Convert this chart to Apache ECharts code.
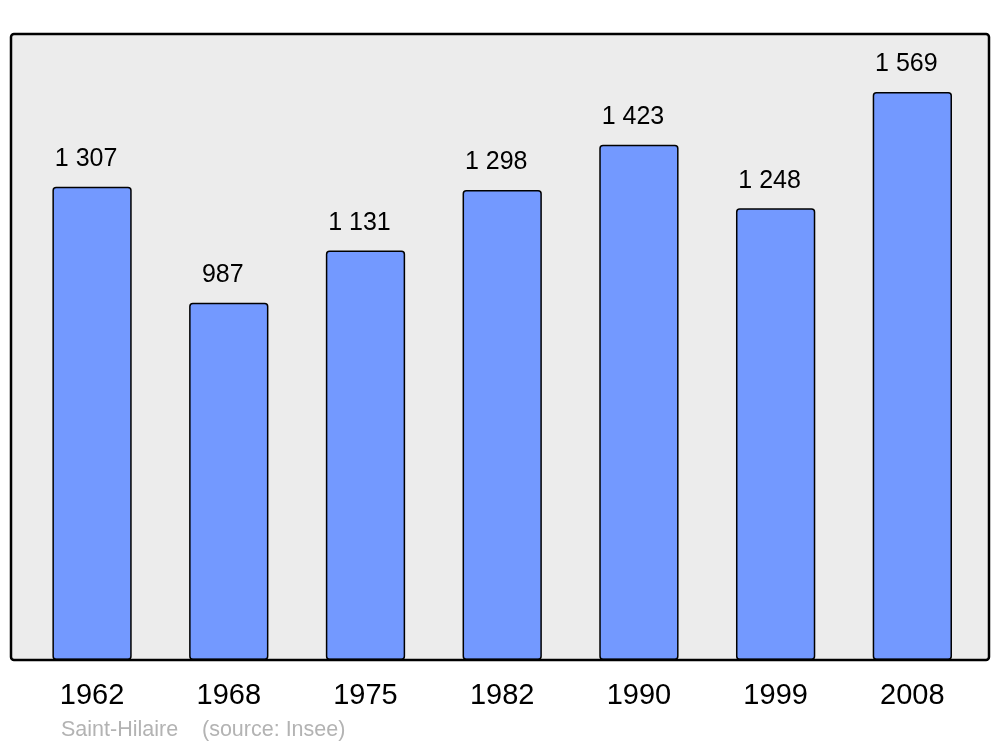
<!DOCTYPE html>
<html>
<head>
<meta charset="utf-8">
<script src="https://cdn.jsdelivr.net/npm/echarts@6/dist/echarts.min.js"></script>
<style>html,body{margin:0;padding:0;background:#fff}#c{width:1000px;height:747px}</style>
</head>
<body>
<div id="c"></div>
<script>
const years = ['1962', '1968', '1975', '1982', '1990', '1999', '2008'];
const population = [1307, 987, 1131, 1298, 1423, 1248, 1569];
const sourceText = 'Saint-Hilaire\u00a0\u00a0\u00a0\u00a0(source: Insee)';

const fmt = v => String(v).replace(/\B(?=(\d{3})+(?!\d))/g, ' ');

const chart = echarts.init(document.getElementById('c'), null, {renderer: 'canvas'});
chart.setOption({
  animation: false,
  backgroundColor: '#ffffff',
  textStyle: {fontFamily: 'Liberation Sans, Arial, sans-serif'},
  grid: {left: 23.7, right: 19.3, top: 34, bottom: 87, containLabel: false},
  graphic: [
    {type: 'rect', z: 0, shape: {x: 11, y: 34, width: 978, height: 626, r: 3},
     style: {fill: '#ececec', stroke: 'none'}},
    {type: 'rect', z: 100, shape: {x: 11, y: 34, width: 978, height: 626, r: 3},
     style: {fill: 'none', stroke: '#000', lineWidth: 2.5}},
    {type: 'text', z: 100, left: 61, top: 719,
     style: {text: sourceText, fill: '#b3b3b3', font: '21.5px "Liberation Sans", Arial, sans-serif'}}
  ],
  xAxis: {
    type: 'category', data: years,
    axisLine: {show: false}, axisTick: {show: false},
    axisLabel: {color: '#000', fontSize: 29, margin: 21, fontFamily: 'Liberation Sans'}
  },
  yAxis: {
    type: 'value', min: 0, max: 1729,
    show: false, splitLine: {show: false}
  },
  series: [{
    type: 'bar', data: population, barWidth: '58%',
    itemStyle: {color: '#7399ff', borderColor: '#000', borderWidth: 1.5, borderRadius: 3},
    label: {show: true, position: 'top', distance: 15, offset: [-6, 0], color: '#000',
            fontSize: 25, fontFamily: 'Liberation Sans', formatter: p => fmt(p.value)}
  }]
});
</script>
</body>
</html>
